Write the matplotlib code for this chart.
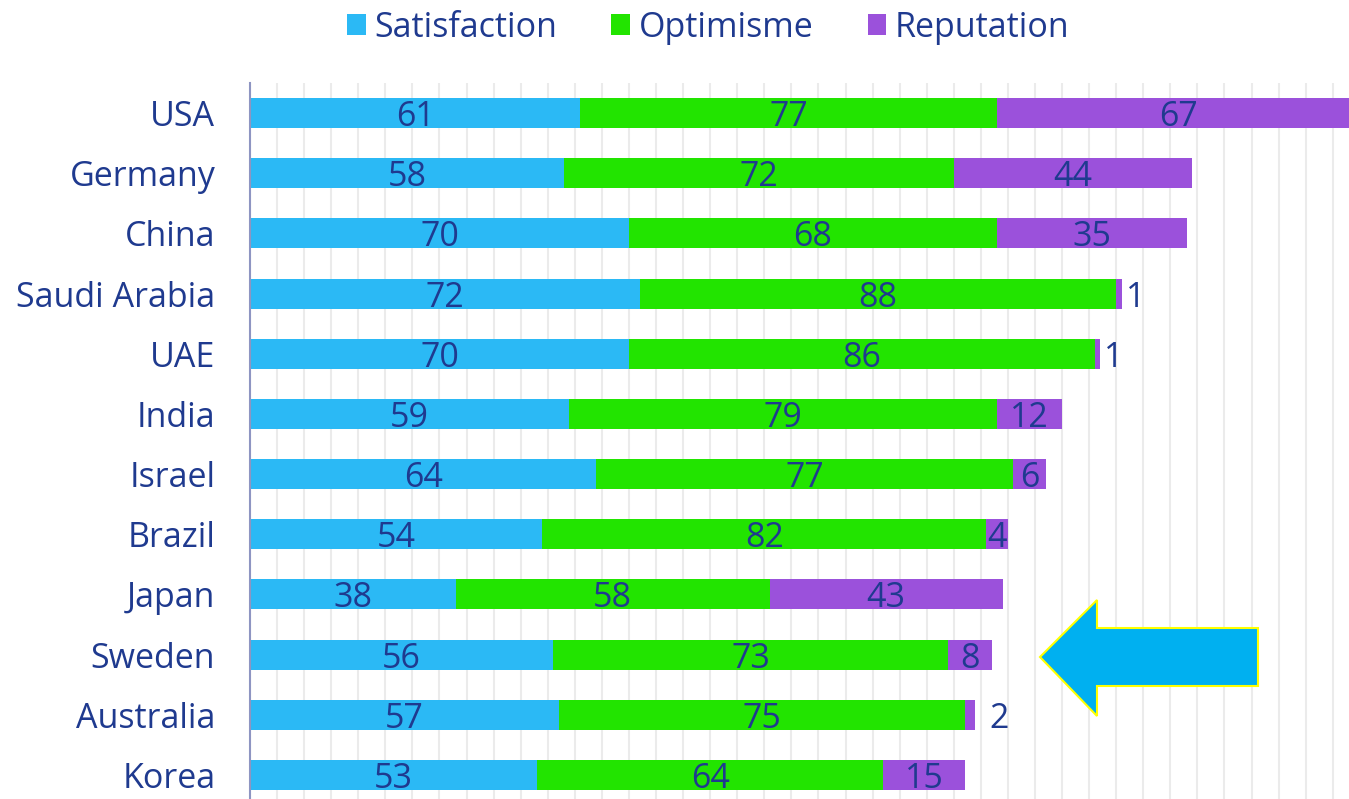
import matplotlib.pyplot as plt
import numpy as np
from matplotlib.patches import Polygon

countries = ["USA", "Germany", "China", "Saudi Arabia", "UAE", "India", "Israel",
             "Brazil", "Japan", "Sweden", "Australia", "Korea"]
satisfaction = [61, 58, 70, 72, 70, 59, 64, 54, 38, 56, 57, 53]
optimisme = [77, 72, 68, 88, 86, 79, 77, 82, 58, 73, 75, 64]
reputation = [67, 44, 35, 1, 1, 12, 6, 4, 43, 8, 2, 15]
series = ["Satisfaction", "Optimisme", "Reputation"]
colors = ["#2bb9f5", "#22e400", "#9b51db"]
navy = "#1f3a8f"

plt.rcParams["font.family"] = ["Open Sans", "DejaVu Sans"]
fs = 24.5

fig = plt.figure(figsize=(13.49, 7.99), dpi=100)
ax = fig.add_axes([250 / 1349, 0, 1 - 250 / 1349, (799 - 83) / 799])

y = np.arange(len(countries))
left = np.zeros(len(countries))
for name, vals, c in zip(series, [satisfaction, optimisme, reputation], colors):
    vals = np.array(vals)
    ax.barh(y, vals, left=left, height=0.5, color=c, label=name, zorder=2)
    for yi, l, v in zip(y, left, vals):
        if v < 4:
            # tiny segments: label sits just right of the bar
            off = 0.8 if v == 1 else 2.5
            ax.text(l + v + off, yi, str(v), ha="left", va="center_baseline",
                    fontsize=fs, color=navy, zorder=3)
        else:
            ax.text(l + v / 2, yi, str(v), ha="center", va="center_baseline",
                    fontsize=fs, color=navy, zorder=3)
    left = left + vals

ax.set_xlim(0, 203)
ax.set_ylim(11.4, -0.5)
ax.set_yticks(y)
ax.set_yticklabels(countries, fontsize=fs, color=navy)
ax.set_xticks(np.arange(0, 205, 5))
ax.tick_params(axis="x", length=0, labelbottom=False)
ax.tick_params(axis="y", length=0, pad=25)
ax.grid(axis="x", color="#ebebeb", linewidth=1.5, zorder=0)
for s in ["top", "right", "bottom"]:
    ax.spines[s].set_visible(False)
ax.spines["left"].set_color("#8e95c2")
ax.spines["left"].set_linewidth(1.5)
ax.spines["left"].set_zorder(4)

leg = fig.legend(loc="upper center", bbox_to_anchor=(0.525, 1.025), ncol=3, frameon=False,
                 fontsize=fs, handlelength=0.55, handleheight=0.55, handletextpad=0.25,
                 columnspacing=1.6, labelcolor=navy)

# highlight arrow (pixels -> figure fraction)
W, H = 1349, 799
pts = [(1040, 657), (1097, 600), (1097, 628), (1258, 628), (1258, 686),
       (1097, 686), (1097, 716)]
arrow = Polygon([(px / W, 1 - py / H) for px, py in pts], closed=True,
                facecolor="#00b0f0", edgecolor="#ffff00", linewidth=1.5,
                transform=fig.transFigure, zorder=5)
fig.patches.append(arrow)

fig.savefig("out.png", dpi=100)
